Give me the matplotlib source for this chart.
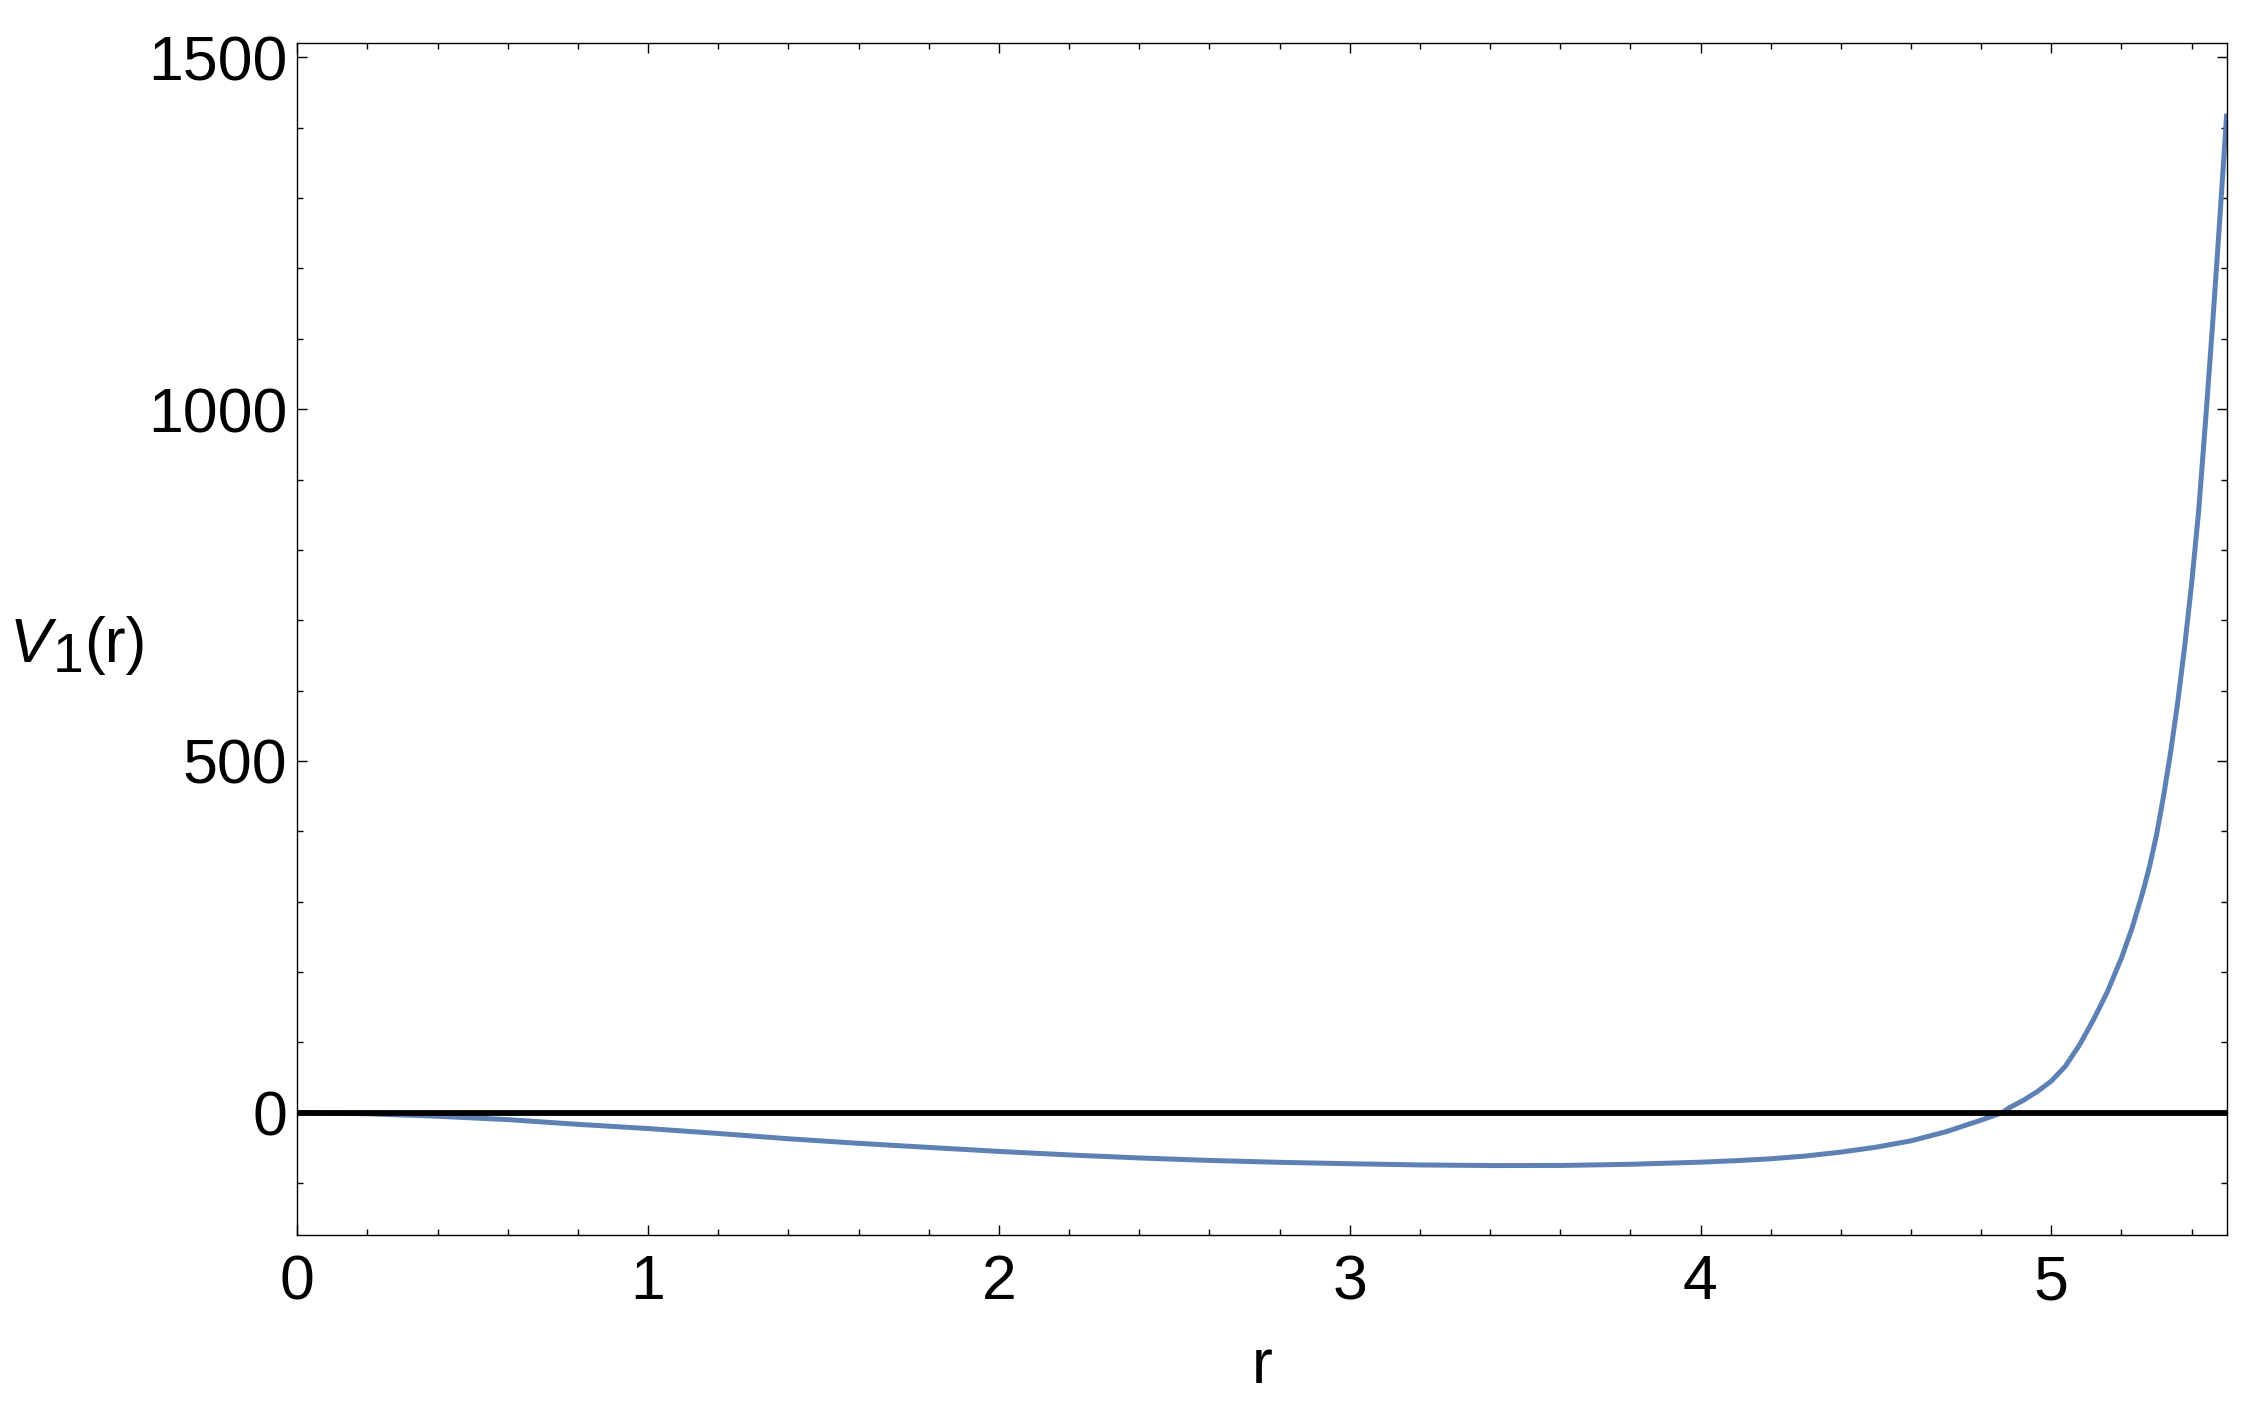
import matplotlib
matplotlib.use("Agg")
import matplotlib.pyplot as plt
from matplotlib.ticker import MultipleLocator, FixedLocator

# Data
r_vals = [0.0, 0.2, 0.4, 0.6, 0.8, 1.0, 1.2, 1.4, 1.6, 1.8, 2.0, 2.2, 2.4, 2.6,
          2.8, 3.0, 3.2, 3.4, 3.6, 3.8, 4.0, 4.1, 4.2, 4.3, 4.4, 4.5, 4.6, 4.7,
          4.8, 4.86, 4.88, 4.92, 4.96, 5.0, 5.04, 5.08, 5.12, 5.16, 5.2, 5.23,
          5.26, 5.28, 5.3, 5.32, 5.34, 5.36, 5.38, 5.4, 5.42, 5.44, 5.46, 5.48,
          5.5]
v_vals = [0.0, -1.5, -5.0, -9.8, -16.5, -22.5, -29.5, -37.0, -43.5, -49.3,
          -55.0, -60.0, -64.3, -67.8, -70.5, -72.5, -74.2, -75.1, -75.0, -73.3,
          -70.3, -68.2, -65.5, -61.5, -56.0, -49.0, -40.0, -27.0, -10.5, 0.0,
          7.0, 17.5, 30.0, 45.0, 66.0, 96.0, 132.0, 172.0, 220.0, 262.0,
          312.0, 350.0, 395.0, 450.0, 512.0, 582.0, 662.0, 752.0, 855.0, 985.0,
          1122.0, 1268.0, 1420.0]
x_ticks = [0, 1, 2, 3, 4, 5]
y_ticks = [0, 500, 1000, 1500]
zero_line = [0.0, 0.0]

plt.rcParams['font.family'] = ['Liberation Sans', 'DejaVu Sans']

W, H = 2246, 1410
fig = plt.figure(figsize=(W / 100, H / 100), dpi=100)
ax = fig.add_axes([297.3 / W, 1 - 1235 / H, (2226.7 - 297.3) / W, (1235 - 43.3) / H])

ax.plot(r_vals, v_vals, color='#5E81B5', lw=3.6, solid_capstyle='butt',
        solid_joinstyle='round', zorder=2)
ax.plot([0.0, 5.5], zero_line, color='black', lw=4.2, solid_capstyle='butt', zorder=3)

ax.set_xlim(0, 5.5)
ax.set_ylim(-173.8, 1520)

ax.xaxis.set_major_locator(FixedLocator(x_ticks))
ax.xaxis.set_minor_locator(MultipleLocator(0.2))
ax.yaxis.set_major_locator(FixedLocator(y_ticks))
ax.yaxis.set_minor_locator(MultipleLocator(100))
ax.set_xticklabels([str(t) for t in x_ticks])
ax.set_yticklabels([str(t) for t in y_ticks])

ax.tick_params(which='both', direction='in', top=True, right=True, width=1.0,
               colors='black')
ax.tick_params(which='major', length=7.2, labelsize=45)
ax.tick_params(axis='y', which='major', pad=7)
ax.tick_params(axis='x', which='major', pad=13)
ax.tick_params(which='minor', length=4.3)
for s in ax.spines.values():
    s.set_linewidth(1.0)

# y label "V_1(r)" composed of pieces (large Mathematica-style subscript)
fig.text(10 / W, 1 - 661.7 / H, 'V', fontsize=45, style='italic',
         ha='left', va='baseline')
fig.text(53 / W, 1 - 671.7 / H, '1', fontsize=40, ha='left', va='baseline')
fig.text(84.5 / W, 1 - 661.7 / H, '(r)', fontsize=45, ha='left', va='baseline')

fig.text(1262 / W, 1 - 1383 / H, 'r', fontsize=45, ha='center', va='baseline')

fig.savefig('out.png', dpi=100)
